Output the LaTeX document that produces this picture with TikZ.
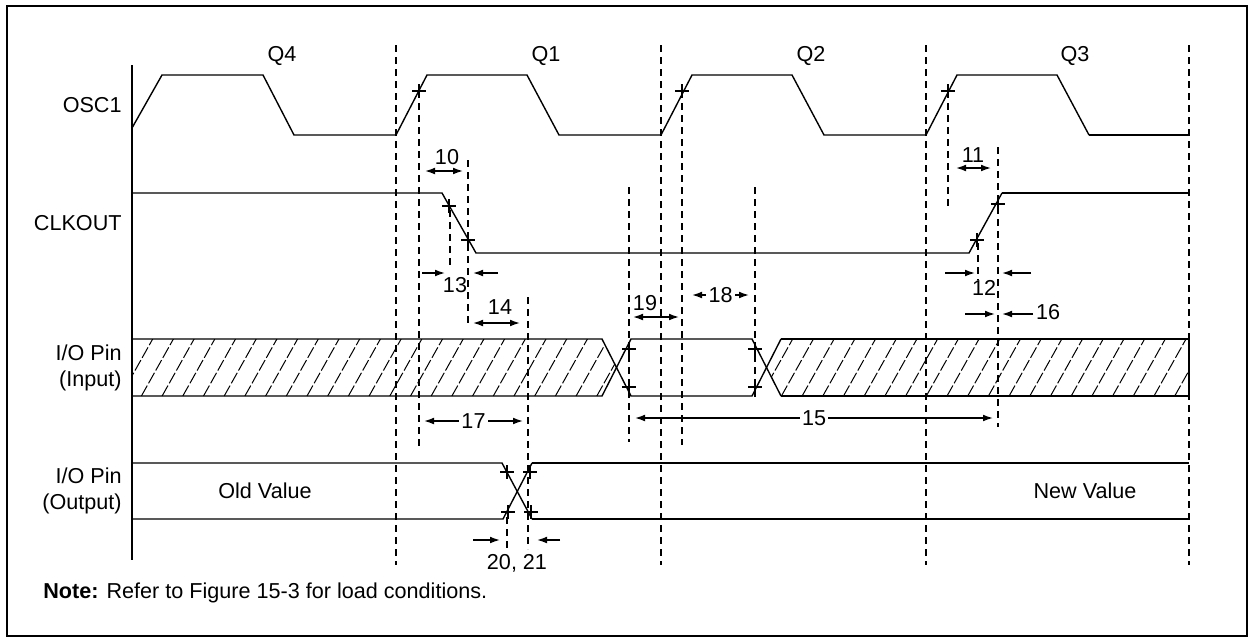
\documentclass[tikz,border=0pt]{standalone}
\usepackage{fontspec}
\setmainfont{Liberation Sans}
\usetikzlibrary{arrows.meta}
\tikzset{>={Latex[length=5pt,width=3.4pt]}}
\newcommand{\crossmark}[1]{\draw[line width=1pt] (#1) ++(-7,0) -- ++(14,0) (#1) ++(0,-7) -- ++(0,14);}

\begin{document}
\begin{tikzpicture}[x=0.5pt,y=-0.5pt,
    every node/.style={font=\fontsize{10.8}{12.6}\selectfont,inner sep=1pt},
    sig/.style={line width=0.7pt},
    sigb/.style={line width=1pt},
    guide/.style={line width=0.9pt,dash pattern=on 3.5pt off 2.5pt},
    hatch/.style={line width=0.5pt,dash pattern=on 6pt off 1.3pt},
    dim/.style={line width=0.7pt}]
      \useasboundingbox (0,0) rectangle (1251,638);
      \draw[line width=1pt] (7,6) rectangle (1247,636);
      % time axis and quarter boundaries
      \draw[line width=1.1pt] (132,65) -- (132,560);
      \foreach \x in {396,661,926,1189} \draw[guide] (\x,45) -- (\x,565);
      \draw[guide] (419,103) -- (419,447);
      \draw[guide] (682,103) -- (682,445);
      \draw[guide] (948,103) -- (948,208);
      \draw[guide] (468,160) -- (468,325);
      \draw[guide] (450,210) -- (450,266);
      \draw[guide] (998,147) -- (998,427);
      \draw[guide] (978,243) -- (978,280);
      \draw[guide] (629,187) -- (629,442);
      \draw[guide] (755,187) -- (755,397);
      \draw[guide] (528,297) -- (528,549);
      \draw[guide] (507,517) -- (507,549);
      % quarter names
      \node (q4) at (282,56) {Q4};
      \node (q1) at (546,56) {Q1};
      \node (q2) at (811,56) {Q2};
      \node (q3) at (1075,56) {Q3};
      % signal names
      \node[anchor=east] (osc) at (124,105) {OSC1};
      \node[anchor=east] (clk) at (124,223) {CLKOUT};
      \node[anchor=east,align=right] (pinin) at (124,368) {I/O Pin\\(Input)};
      \node[anchor=east,align=right] (pinout) at (124,491) {I/O Pin\\(Output)};
      % OSC1
      \draw[sig] (132,128) -- (162,75) -- (263,75) -- (294,135) -- (396,135) -- (427,75) -- (527,75) -- (559,135)
        -- (661,135) -- (692,75) -- (792,75) -- (824,135) -- (926,135) -- (957,75) -- (1057,75) -- (1089,135);
      \draw[sigb] (1089,135) -- (1189,135);
      \crossmark{419,91}
      \crossmark{682,91}
      \crossmark{948,91}
      % CLKOUT
      \draw[sig] (132,193) -- (442,193) -- (476,253) -- (969,253) -- (1002,193);
      \draw[sigb] (1002,193) -- (1189,193);
      \crossmark{449,206}
      \crossmark{468,240}
      \crossmark{977,240}
      \crossmark{998,204}
      % I/O pin input
      \begin{scope}
        \clip (132,339) -- (602,339) -- (616.5,367.5) -- (602,396) -- (132,396) -- cycle;
        \foreach \x in {100,120.7,...,640} \draw[hatch] (\x,396) -- ++(32,-57);
      \end{scope}
      \begin{scope}
        \clip (781,339) -- (1189,339) -- (1189,396) -- (781,396) -- (766.5,367.5) -- cycle;
        \foreach \x in {740,760.7,...,1200} \draw[hatch] (\x,396) -- ++(32,-57);
      \end{scope}
      \draw[sig] (132,339) -- (602,339) -- (631,396) -- (752,396) -- (781,339);
      \draw[sig] (781,396) -- (752,339) -- (631,339) -- (602,396) -- (132,396);
      \draw[sigb] (781,339) -- (1189,339) -- (1189,396) -- (781,396);
      \crossmark{629,349}
      \crossmark{629,387}
      \crossmark{755,349}
      \crossmark{755,387}
      % I/O pin output
      \draw[sig] (132,463) -- (502,463) -- (532,519);
      \draw[sig] (132,519) -- (503,519) -- (532,463);
      \draw[sigb] (532,463) -- (1189,463) (532,519) -- (1189,519);
      \crossmark{507,472}
      \crossmark{530,472}
      \crossmark{508,512}
      \crossmark{531,512}
      \node (old) at (265,491) {Old Value};
      \node (new) at (1085,491) {New Value};
      % timing parameters
      \draw[dim,<->] (425,171) -- (463,171);
      \node (t10) at (447,157) {10};
      \draw[dim,<->] (956,168) -- (991,168);
      \node (t11) at (973,155) {11};
      \draw[dim,->] (422,273) -- (445,273);
      \draw[dim,->] (498,273) -- (473,273);
      \node (t13) at (455,285) {13};
      \draw[dim,->] (945,273) -- (975,273);
      \draw[dim,->] (1031,273) -- (1002,273);
      \node (t12) at (984,288) {12};
      \draw[dim,<->] (473,323) -- (520,323);
      \node (t14) at (500,307) {14};
      \draw[dim,<->] (633,317) -- (679,317);
      \node (t19) at (645,303) {19};
      \draw[dim,<->] (692,295) -- node[fill=white] (t18) {18} (749,295);
      \draw[dim,->] (965,314) -- (995,314);
      \draw[dim,->] (1033,314) -- (1002,314);
      \node (t16) at (1048,312) {16};
      \draw[dim,<->] (424,421) -- node[fill=white] (t17) {17} (523,421);
      \draw[dim,<->] (635,418) -- node[fill=white] (t15) {15} (993,418);
      \draw[dim,->] (473,540) -- (500,540);
      \draw[dim,->] (560,540) -- (537,540);
      \node (t20) at (517,563) {20, 21};
      % note
      \node[anchor=west] (note) at (41,593) {\textbf{Note:} Refer to Figure 15-3 for load conditions.};
    \end{tikzpicture}
\end{document}
